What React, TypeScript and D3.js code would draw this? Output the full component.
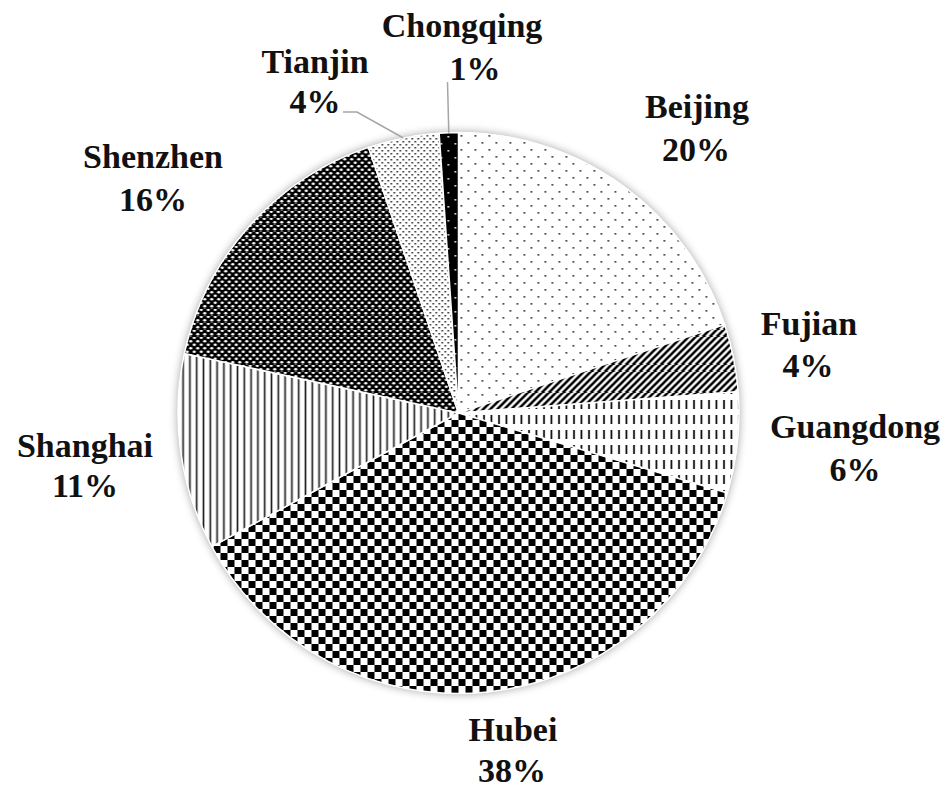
import React from 'react';
import * as d3 from 'd3';

// share of cases by province, clockwise from 12 o'clock
const provinces = ['Beijing', 'Fujian', 'Guangdong', 'Hubei', 'Shanghai', 'Shenzhen', 'Tianjin', 'Chongqing'];
const shares = [19.9, 3.9, 5.8, 37.5, 11.3, 16.4, 4.1, 1.1];

const W = 950;
const H = 790;
const cx = 458.5;
const cy = 413;
const R = 280.5;

// label anchors: [name x, name baseline, pct x, pct baseline]
const labelPos: Record<string, number[]> = {
	Beijing: [697, 118, 696, 161],
	Fujian: [809, 335, 808, 377],
	Guangdong: [855, 438, 855, 481],
	Hubei: [513, 741, 512, 782],
	Shanghai: [85, 457, 85, 497],
	Shenzhen: [153, 168, 153, 211],
	Tianjin: [315, 73, 315, 113],
	Chongqing: [462, 37, 475, 80],
};

// leader lines for the thin slices (label-side points)
const leaders: Record<string, number[][]> = {
	Tianjin: [[343, 112], [357, 112]],
	Chongqing: [[447.5, 82]],
};

const fills: Record<string, string> = {
	Beijing: 'url(#p-beijing)',
	Fujian: 'url(#p-fujian)',
	Guangdong: 'url(#p-guangdong)',
	Hubei: 'url(#p-hubei)',
	Shanghai: 'url(#p-shanghai)',
	Shenzhen: 'url(#p-shenzhen)',
	Tianjin: 'url(#p-tianjin)',
	Chongqing: 'url(#p-chongqing)',
};

export default function App() {
	const data = provinces.map((name, i) => ({ name, value: shares[i] }));
	const pie = d3.pie<any>().sort(null).value(d => d.value).startAngle(0).endAngle(2 * Math.PI);
	const arcs = pie(data);
	const arc = d3.arc<any>().innerRadius(0).outerRadius(R);

	const rimPoint = (a: any) => {
		const mid = (a.startAngle + a.endAngle) / 2;
		return [cx + R * Math.sin(mid), cy - R * Math.cos(mid)];
	};

	return (
		<svg width={W} height={H} viewBox={`0 0 ${W} ${H}`} style={{ position: 'absolute', left: 0, top: 0, background: '#fff' }}>
			<defs>
				<filter id="shadow" x="-10%" y="-10%" width="120%" height="120%">
					<feGaussianBlur in="SourceAlpha" stdDeviation="5" />
					<feComponentTransfer>
						<feFuncA type="linear" slope="0.4" />
					</feComponentTransfer>
					<feMerge>
						<feMergeNode />
						<feMergeNode in="SourceGraphic" />
					</feMerge>
				</filter>
				<pattern id="p-beijing" width="14" height="14" patternUnits="userSpaceOnUse">
					<rect width="14" height="14" fill="#fff" />
					<rect x="2" y="2" width="1.7" height="1.7" fill="#333" />
					<rect x="9" y="9" width="1.7" height="1.7" fill="#333" />
				</pattern>
				<pattern id="p-fujian" width="7" height="7" patternUnits="userSpaceOnUse">
					<rect width="7" height="7" fill="#fff" />
					<path d="M-1,1 L1,-1 M0,7 L7,0 M6,8 L8,6" stroke="#000" strokeWidth="2.6" />
				</pattern>
				<pattern id="p-guangdong" width="7.5" height="15" patternUnits="userSpaceOnUse">
					<rect width="7.5" height="15" fill="#fff" />
					<line x1="3" y1="2" x2="3" y2="11" stroke="#000" strokeWidth="1.7" />
				</pattern>
				<pattern id="p-hubei" width="14" height="14" patternUnits="userSpaceOnUse">
					<rect width="14" height="14" fill="#fff" />
					<rect x="0" y="0" width="7" height="7" fill="#000" />
					<rect x="7" y="7" width="7" height="7" fill="#000" />
				</pattern>
				<pattern id="p-shanghai" width="6.8" height="10" patternUnits="userSpaceOnUse">
					<rect width="6.8" height="10" fill="#fff" />
					<line x1="3.4" y1="0" x2="3.4" y2="10" stroke="#222" strokeWidth="1.7" />
				</pattern>
				<pattern id="p-shenzhen" width="7" height="7" patternUnits="userSpaceOnUse">
					<rect width="7" height="7" fill="#000" />
					<ellipse cx="1.75" cy="1.75" rx="1.6" ry="1.2" fill="#fff" />
					<ellipse cx="5.25" cy="5.25" rx="1.6" ry="1.2" fill="#fff" />
				</pattern>
				<pattern id="p-tianjin" width="6" height="6" patternUnits="userSpaceOnUse">
					<rect width="6" height="6" fill="#fff" />
					<rect x="1" y="1" width="1.5" height="1.5" fill="#111" />
					<rect x="4" y="4" width="1.5" height="1.5" fill="#111" />
				</pattern>
				<pattern id="p-chongqing" width="14" height="14" patternUnits="userSpaceOnUse">
					<rect width="14" height="14" fill="#000" />
					<rect x="3" y="3" width="1.6" height="1.6" fill="#fff" />
					<rect x="10" y="10" width="1.6" height="1.6" fill="#fff" />
				</pattern>
			</defs>

			<circle cx={cx} cy={cy} r={R} fill="#fff" filter="url(#shadow)" />
			<g transform={`translate(${cx},${cy})`}>
				{arcs.map(a => (
					<path key={a.data.name} d={arc(a) || ''} fill={fills[a.data.name]} stroke="#fff" strokeWidth={1.5} />
				))}
			</g>

			{arcs.filter(a => leaders[a.data.name]).map(a => {
				const pts = [...leaders[a.data.name], rimPoint(a)];
				const line = d3.line();
				return (
					<path key={'l-' + a.data.name} d={line(pts as [number, number][]) || ''} fill="none" stroke="#a6a6a6" strokeWidth={1.5} />
				);
			})}

			<g style={{ fontFamily: '"Liberation Serif", "Times New Roman", "DejaVu Serif", serif', fontWeight: 700, fontSize: '34px' }} fill="#111" textAnchor="middle">
				{arcs.map(a => {
					const p = labelPos[a.data.name];
					return (
						<g key={'t-' + a.data.name}>
							<text x={p[0]} y={p[1]}>{a.data.name}</text>
							<text x={p[2]} y={p[3]}>{`${Math.round(a.data.value)}%`}</text>
						</g>
					);
				})}
			</g>
		</svg>
	);
}
